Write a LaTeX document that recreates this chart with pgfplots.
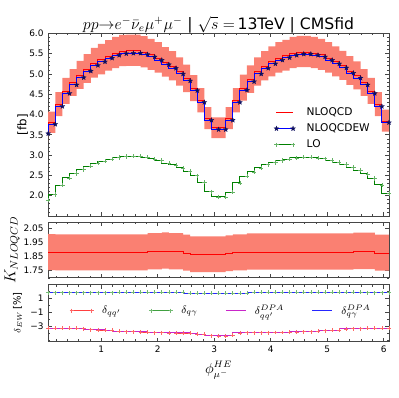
\documentclass[border=0pt]{standalone}
\usepackage[no-math]{fontspec}
\setmainfont{DejaVu Sans}
\usepackage{pgfplots}
\pgfplotsset{compat=1.18}
\usepackage{pgfplotstable}
\usepgfplotslibrary{fillbetween}

\definecolor{band}{RGB}{250,128,114}
\definecolor{mplred}{RGB}{255,0,0}
\definecolor{mplgreen}{RGB}{0,128,0}
\definecolor{mplblue}{RGB}{0,0,255}
\definecolor{mplmag}{RGB}{191,0,191}
\definecolor{starc}{RGB}{15,15,95}
\definecolor{frame}{RGB}{70,70,70}

% filled five-pointed star
\pgfdeclareplotmark{fstar}{%
  \pgfpathmoveto{\pgfpointpolar{90}{\pgfplotmarksize}}%
  \pgfpathlineto{\pgfpointpolar{126}{0.42\pgfplotmarksize}}%
  \pgfpathlineto{\pgfpointpolar{162}{\pgfplotmarksize}}%
  \pgfpathlineto{\pgfpointpolar{198}{0.42\pgfplotmarksize}}%
  \pgfpathlineto{\pgfpointpolar{234}{\pgfplotmarksize}}%
  \pgfpathlineto{\pgfpointpolar{270}{0.42\pgfplotmarksize}}%
  \pgfpathlineto{\pgfpointpolar{306}{\pgfplotmarksize}}%
  \pgfpathlineto{\pgfpointpolar{342}{0.42\pgfplotmarksize}}%
  \pgfpathlineto{\pgfpointpolar{18}{\pgfplotmarksize}}%
  \pgfpathlineto{\pgfpointpolar{54}{0.42\pgfplotmarksize}}%
  \pgfpathclose
  \pgfusepathqfillstroke}

% bin centres, NLOQCDEW, NLOQCD (+band), LO, K-factor (+band), EW corrections in %
\pgfplotstableread{
x B R Rup Rlo LO K Kup Klo dqq dqg dqqD dqgD
0.0628 3.53 3.57 3.83 3.33 1.894 1.885 2.017 1.762 -3.30 1.86 -3.27 1.88
0.1885 3.76 3.80 4.07 3.55 2.026 1.876 2.007 1.754 -3.30 1.86 -3.27 1.88
0.3142 4.20 4.24 4.55 3.96 2.261 1.875 2.006 1.753 -3.30 1.86 -3.27 1.88
0.4398 4.52 4.57 4.90 4.26 2.437 1.875 2.006 1.753 -3.30 1.86 -3.27 1.88
0.5655 4.73 4.78 5.12 4.46 2.549 1.875 2.006 1.753 -3.32 1.86 -3.29 1.88
0.6912 4.91 4.96 5.32 4.63 2.645 1.875 2.006 1.753 -3.35 1.86 -3.32 1.88
0.8168 5.07 5.12 5.49 4.78 2.731 1.875 2.006 1.753 -3.50 1.86 -3.47 1.88
0.9425 5.21 5.26 5.64 4.91 2.805 1.875 2.006 1.753 -3.52 1.86 -3.49 1.88
1.0681 5.30 5.35 5.74 4.99 2.853 1.875 2.006 1.753 -3.55 1.86 -3.52 1.88
1.1938 5.39 5.44 5.83 5.08 2.901 1.875 2.006 1.753 -3.58 1.86 -3.55 1.88
1.3195 5.46 5.51 5.91 5.14 2.939 1.875 2.006 1.753 -3.75 1.92 -3.72 1.94
1.4451 5.50 5.56 5.96 5.19 2.965 1.875 2.006 1.753 -3.78 1.92 -3.75 1.94
1.5708 5.51 5.57 5.97 5.20 2.971 1.875 2.006 1.753 -3.80 1.92 -3.77 1.94
1.6965 5.51 5.57 5.97 5.20 2.971 1.875 2.006 1.753 -3.82 1.92 -3.79 1.94
1.8221 5.48 5.53 5.93 5.16 2.949 1.875 2.006 1.753 -3.85 1.92 -3.82 1.94
1.9478 5.42 5.47 5.86 5.10 2.906 1.882 2.014 1.760 -3.92 1.92 -3.89 1.94
2.0735 5.34 5.39 5.78 5.03 2.864 1.882 2.014 1.760 -3.94 1.92 -3.91 1.94
2.1991 5.23 5.28 5.66 4.93 2.797 1.888 2.020 1.765 -3.95 1.92 -3.92 1.94
2.3248 5.14 5.19 5.56 4.84 2.758 1.882 2.014 1.760 -3.96 1.92 -3.93 1.94
2.4504 5.00 5.05 5.41 4.71 2.683 1.882 2.014 1.760 -3.97 1.92 -3.94 1.94
2.5761 4.83 4.88 5.23 4.55 2.607 1.872 2.003 1.750 -3.98 1.78 -3.95 1.80
2.7018 4.59 4.64 4.97 4.33 2.492 1.862 1.992 1.741 -4.10 1.78 -4.07 1.80
2.8274 4.30 4.34 4.65 4.05 2.331 1.862 1.992 1.741 -4.15 1.78 -4.12 1.80
2.9531 3.86 3.90 4.18 3.64 2.095 1.862 1.992 1.741 -4.35 1.78 -4.32 1.80
3.0788 3.63 3.67 3.93 3.42 1.971 1.862 1.992 1.741 -4.40 1.78 -4.37 1.80
3.2044 3.63 3.67 3.93 3.42 1.971 1.862 1.992 1.741 -4.40 1.78 -4.37 1.80
3.3301 3.86 3.90 4.18 3.64 2.088 1.868 1.999 1.747 -4.30 1.78 -4.27 1.80
3.4558 4.30 4.34 4.65 4.05 2.315 1.875 2.006 1.753 -3.95 1.78 -3.92 1.80
3.5814 4.60 4.65 4.98 4.34 2.480 1.875 2.006 1.753 -3.93 1.78 -3.90 1.80
3.7071 4.81 4.86 5.21 4.53 2.585 1.880 2.012 1.758 -3.92 1.93 -3.89 1.95
3.8327 5.00 5.05 5.41 4.71 2.686 1.880 2.012 1.758 -3.92 1.93 -3.89 1.95
3.9584 5.14 5.19 5.56 4.84 2.761 1.880 2.012 1.758 -3.91 1.93 -3.88 1.95
4.0841 5.25 5.30 5.68 4.94 2.819 1.880 2.012 1.758 -3.90 1.93 -3.87 1.95
4.2097 5.34 5.39 5.78 5.03 2.867 1.880 2.012 1.758 -3.90 1.93 -3.87 1.95
4.3354 5.40 5.45 5.84 5.08 2.899 1.880 2.012 1.758 -3.88 1.93 -3.85 1.95
4.4611 5.46 5.51 5.91 5.14 2.931 1.880 2.012 1.758 -3.82 1.93 -3.79 1.95
4.5867 5.49 5.54 5.94 5.17 2.947 1.880 2.012 1.758 -3.80 1.93 -3.77 1.95
4.7124 5.49 5.54 5.94 5.17 2.947 1.880 2.012 1.758 -3.80 1.93 -3.77 1.95
4.8381 5.46 5.51 5.91 5.14 2.931 1.880 2.012 1.758 -3.75 1.93 -3.72 1.95
4.9637 5.42 5.47 5.86 5.10 2.910 1.880 2.012 1.758 -3.62 1.93 -3.59 1.95
5.0894 5.34 5.39 5.78 5.03 2.867 1.880 2.012 1.758 -3.60 1.93 -3.57 1.95
5.2150 5.25 5.30 5.68 4.94 2.819 1.880 2.012 1.758 -3.58 1.93 -3.55 1.95
5.3407 5.15 5.20 5.57 4.85 2.766 1.880 2.012 1.758 -3.38 1.93 -3.35 1.95
5.4664 5.02 5.07 5.44 4.73 2.697 1.880 2.012 1.758 -3.35 1.93 -3.32 1.95
5.5920 4.90 4.95 5.31 4.62 2.626 1.885 2.017 1.762 -3.33 1.93 -3.30 1.95
5.7177 4.73 4.78 5.12 4.46 2.536 1.885 2.017 1.762 -3.32 1.86 -3.29 1.88
5.8434 4.52 4.57 4.90 4.26 2.424 1.885 2.017 1.762 -3.30 1.86 -3.27 1.88
5.9690 4.20 4.24 4.55 3.96 2.265 1.872 2.003 1.750 -3.30 1.86 -3.27 1.88
6.0947 3.80 3.84 4.12 3.58 2.051 1.872 2.003 1.750 -3.30 1.86 -3.27 1.88
}\data

\pgfplotsset{
  panel/.style={
    scale only axis, width=256.7pt, anchor=north west,
    xmin=0.0628, xmax=6.0947,
    xtick={1,2,3,4,5,6},
    minor xtick={0.2,0.4,...,6.0},
    tick align=inside,
    major tick length=3pt, minor tick length=1.6pt,
    axis line style={frame, line width=0.6pt},
    every tick/.style={frame, line width=0.5pt},
    tick label style={font=\fontsize{6.75}{8}\selectfont},
    /pgf/number format/assume math mode=true,
  },
  twoends/.style={legend image code/.code={%
    \draw[mark repeat=1,##1] plot coordinates {(0pt,0pt) (#1,0pt)};}},
}

\begin{document}
\begin{tikzpicture}
\path (0,0) rectangle (299.25pt,-299.25pt);

% ---------------- main panel ----------------
\begin{axis}[panel,
  at={(35.0pt,-25.1pt)}, height=137.6pt,
  ymin=1.5, ymax=6.0,
  ytick={2.0,2.5,...,6.0},
  minor ytick={1.5,1.6,...,6.0},
  xticklabels={},
  yticklabel style={/pgf/number format/.cd, fixed, fixed zerofill, precision=1},
  ylabel={[fb]},
  every axis y label/.style={at={(axis description cs:-0.075,0.5)}, rotate=90, anchor=center,
    font=\fontsize{8.9}{10}\selectfont},
  every axis title shift=0pt,
  title={$pp{\to}e^{-}\bar{\nu}_{e}\mu^{+}\mu^{-}$ | $\sqrt{s}=\,$13TeV | CMSfid},
  title style={at={(axis description cs:0.5,1)}, anchor=base, yshift=3.2pt,
    font=\fontsize{11.8}{14}\selectfont},
  twoends=12.5pt,
  legend cell align=left,
  legend style={draw=none, fill=none, at={(axis description cs:0.662,0.595)}, anchor=north west,
    font=\fontsize{8}{10}\selectfont, inner sep=0pt, row sep=4.6pt,
    nodes={inner sep=0pt, text height=6pt, text depth=1.5pt},
    /tikz/every odd column/.append style={column sep=8.5pt}},
]
\addplot[name path=up, draw=none, const plot mark right, forget plot] table[x=x,y=Rup]{\data};
\addplot[name path=lo, draw=none, const plot mark right, forget plot] table[x=x,y=Rlo]{\data};
\addplot[band, draw=none, forget plot] fill between[of=up and lo];
\addplot[mplred, line width=0.7pt, const plot mark right] table[x=x,y=R]{\data};
\addlegendentry{NLOQCD}
\addplot[mplblue, line width=0.7pt, const plot mark right, mark=fstar, mark size=1.9pt,
  mark options={fill=starc, draw=starc, line width=0.2pt}] table[x=x,y=B]{\data};
\addlegendentry{NLOQCDEW}
\addplot[mplgreen, line width=0.7pt, const plot mark right, mark=+, mark size=1.6pt,
  mark options={mplgreen!60, line width=0.5pt}] table[x=x,y=LO]{\data};
\addlegendentry{LO}
\end{axis}

% ---------------- K-factor panel ----------------
\begin{axis}[panel,
  at={(35.0pt,-167.5pt)}, height=41.8pt,
  ymin=1.70, ymax=2.09,
  ytick={1.75,1.85,1.95,2.05},
  minor ytick={1.70,1.75,...,2.06},
  xticklabels={},
  yticklabel style={/pgf/number format/.cd, fixed, fixed zerofill, precision=2},
  ylabel={$K_{NLOQCD}$},
  every axis y label/.style={at={(axis description cs:-0.106,0.5)}, rotate=90, anchor=center,
    font=\fontsize{11.5}{13}\selectfont},
]
\addplot[name path=kup, draw=none, const plot mark right, forget plot] table[x=x,y=Kup]{\data};
\addplot[name path=klo, draw=none, const plot mark right, forget plot] table[x=x,y=Klo]{\data};
\addplot[band, draw=none, forget plot] fill between[of=kup and klo];
\addplot[mplred, line width=0.7pt, const plot mark right] table[x=x,y=K]{\data};
\end{axis}

% ---------------- EW correction panel ----------------
\begin{axis}[panel,
  at={(35.0pt,-214.5pt)}, height=42.75pt,
  ymin=-5.2, ymax=3.0,
  ytick={-3,-1,1}, yticklabels={−3,−1,1},
  minor ytick={-5,-4,...,3},
  xlabel={$\phi^{HE}_{\mu^-}$},
  every axis x label/.style={at={(axis description cs:0.5,-0.505)}, anchor=center,
    font=\fontsize{10.5}{12}\selectfont},
  ylabel={$\delta_{EW}\,$[\%]},
  every axis y label/.style={at={(axis description cs:-0.090,0.5)}, rotate=90, anchor=center,
    font=\fontsize{7.5}{9}\selectfont},
  twoends=15pt,
  legend columns=4,
  legend style={draw=none, fill=none, at={(axis description cs:0.062,0.544)}, anchor=west,
    font=\fontsize{8}{10}\selectfont, inner sep=0pt,
    nodes={inner sep=0pt},
    /tikz/every odd column/.append style={column sep=6.5pt},
    /tikz/every even column/.append style={column sep=21pt}},
]
\addplot[mplred!75, line width=0.7pt, const plot mark right, mark=+, mark size=1.5pt,
  mark options={mplred!60, line width=0.5pt}] table[x=x,y=dqq]{\data};
\addlegendentry{$\delta_{qq'}$}
\addplot[mplgreen!75, line width=0.7pt, const plot mark right, mark=+, mark size=1.5pt,
  mark options={mplgreen!55, line width=0.5pt}] table[x=x,y=dqg]{\data};
\addlegendentry{$\delta_{q\gamma}$}
\addplot[mplmag!85, line width=0.7pt, const plot mark right] table[x=x,y=dqqD]{\data};
\addlegendentry{$\delta^{DPA}_{qq'}$}
\addplot[mplblue!85, line width=0.7pt, const plot mark right] table[x=x,y=dqgD]{\data};
\addlegendentry{$\delta^{DPA}_{q\gamma}$}
\end{axis}
\end{tikzpicture}
\end{document}
